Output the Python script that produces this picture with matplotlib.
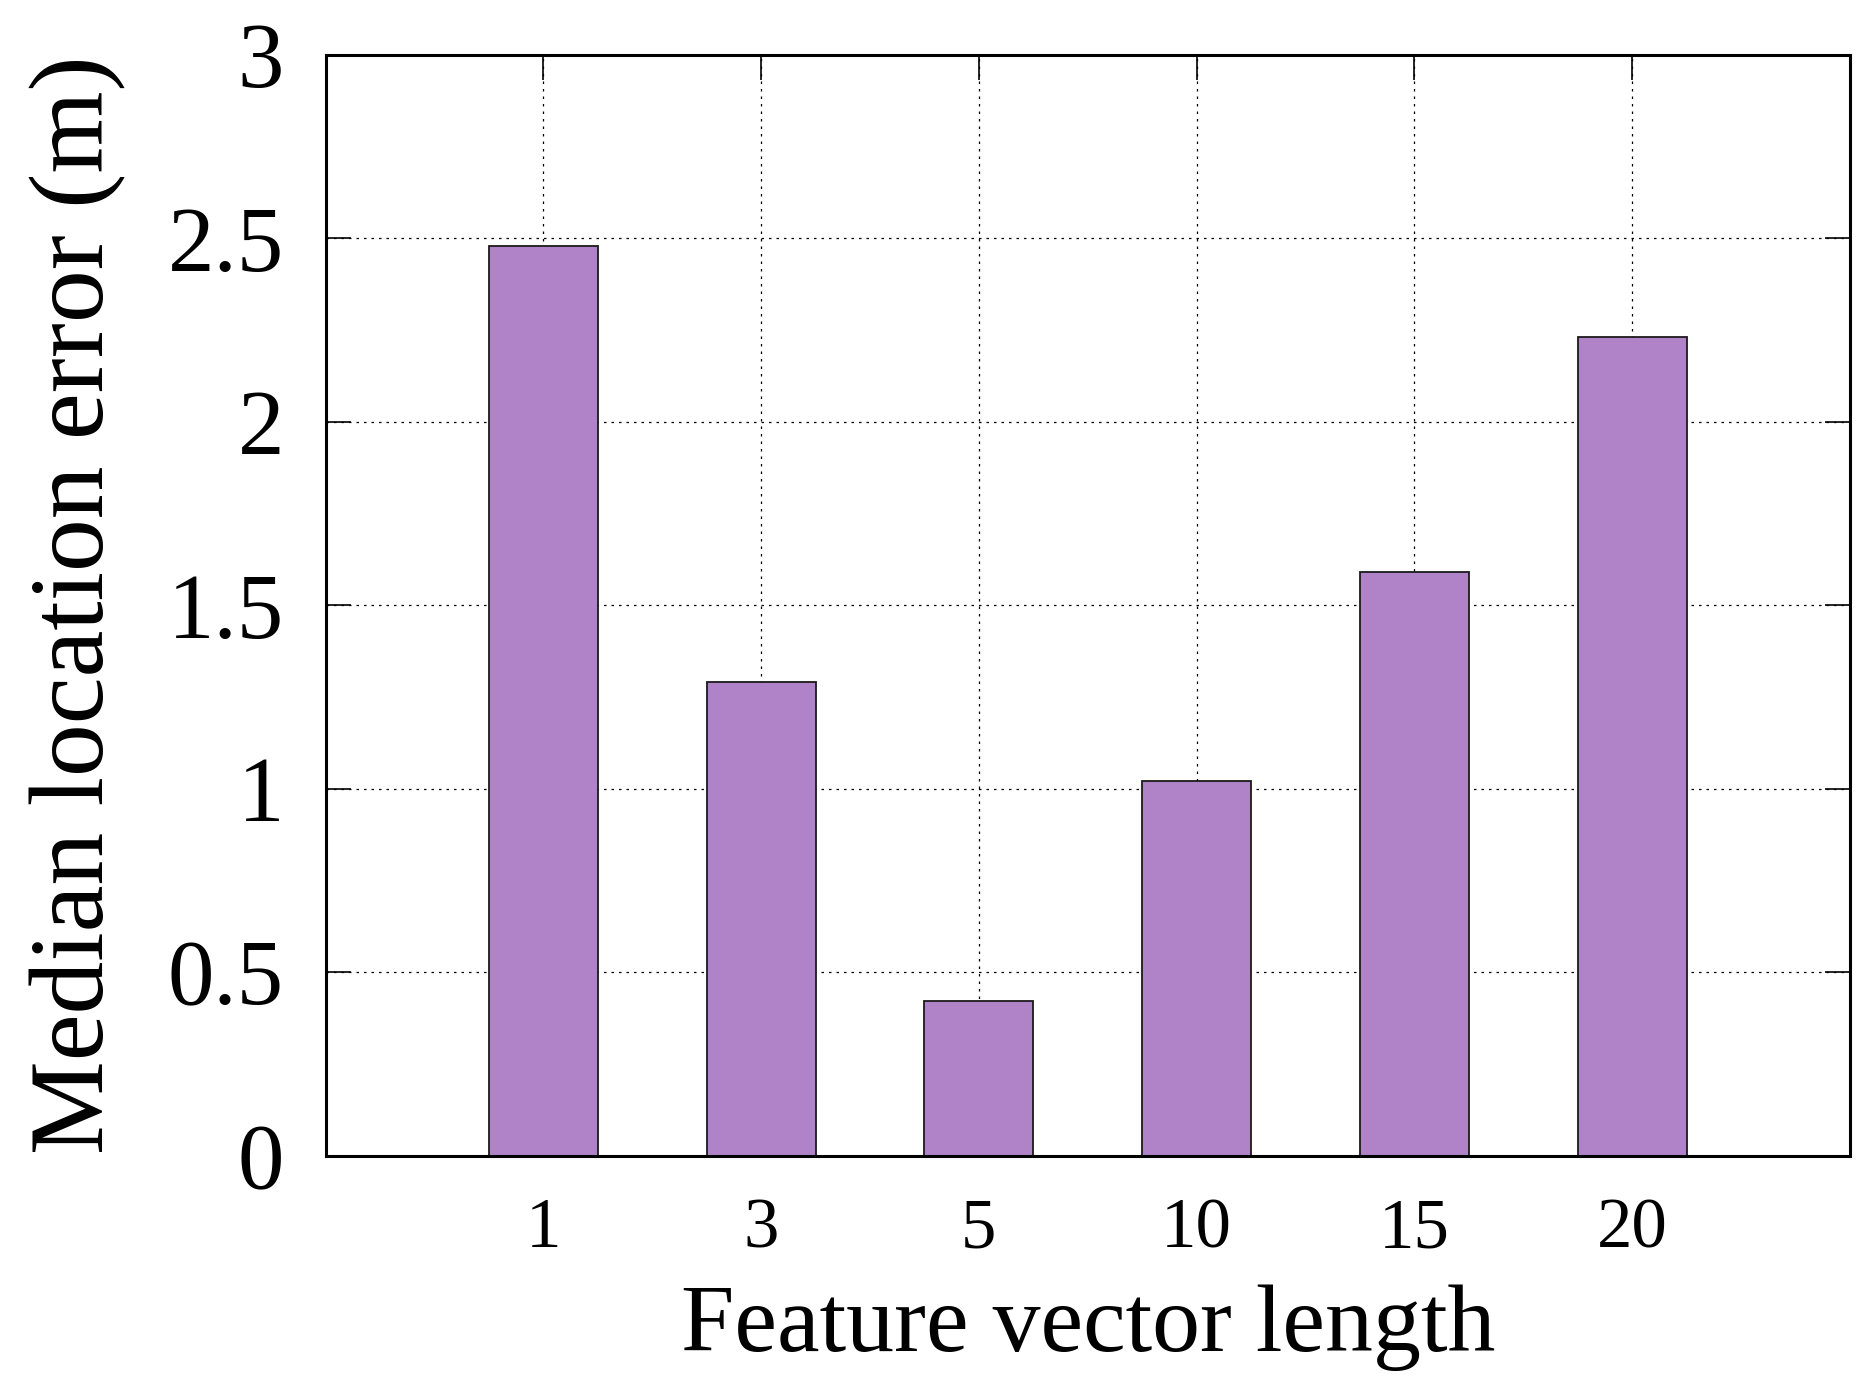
import matplotlib
matplotlib.use("Agg")
import matplotlib.pyplot as plt
import numpy as np

# 数据
lengths = ["1", "3", "5", "10", "15", "20"]
errors = [2.48, 1.29, 0.42, 1.02, 1.59, 2.23]

plt.rcParams['font.family'] = ['Liberation Serif', 'DejaVu Serif']

fig = plt.figure(figsize=(18.64, 13.88), dpi=100)
ax = fig.add_axes([325.7 / 1864, 1 - 1155.5 / 1388, (1849.8 - 325.7) / 1864, (1155.5 - 54.7) / 1388])

pos = np.arange(len(lengths))
ax.bar(pos, errors, width=0.5, color='#b083c9', edgecolor='#1a1a1a', linewidth=1.3, zorder=2)

ax.set_xlim(-1, len(lengths))
ax.set_ylim(0, 3)
ax.set_xticks(pos)
ax.set_xticklabels(lengths)
ax.set_yticks(np.arange(0, 3.01, 0.5))
ax.set_yticklabels(["0", "0.5", "1", "1.5", "2", "2.5", "3"])

ax.grid(True, color='black', linestyle=(0, (2, 4)), linewidth=0.9)
ax.set_axisbelow(True)

ax.tick_params(axis='y', direction='in', length=18, width=1.2, labelsize=67, pad=30,
               right=True)
ax.tick_params(axis='x', direction='in', length=18, width=1.2, labelsize=51, pad=30,
               top=True, bottom=False)
for s in ax.spines.values():
    s.set_linewidth(2.2)

ax.set_xlabel('Feature vector length', fontsize=69, labelpad=16)
ax.set_ylabel('Median location error (m)', fontsize=76, labelpad=30)

fig.savefig('out.png', dpi=100)
